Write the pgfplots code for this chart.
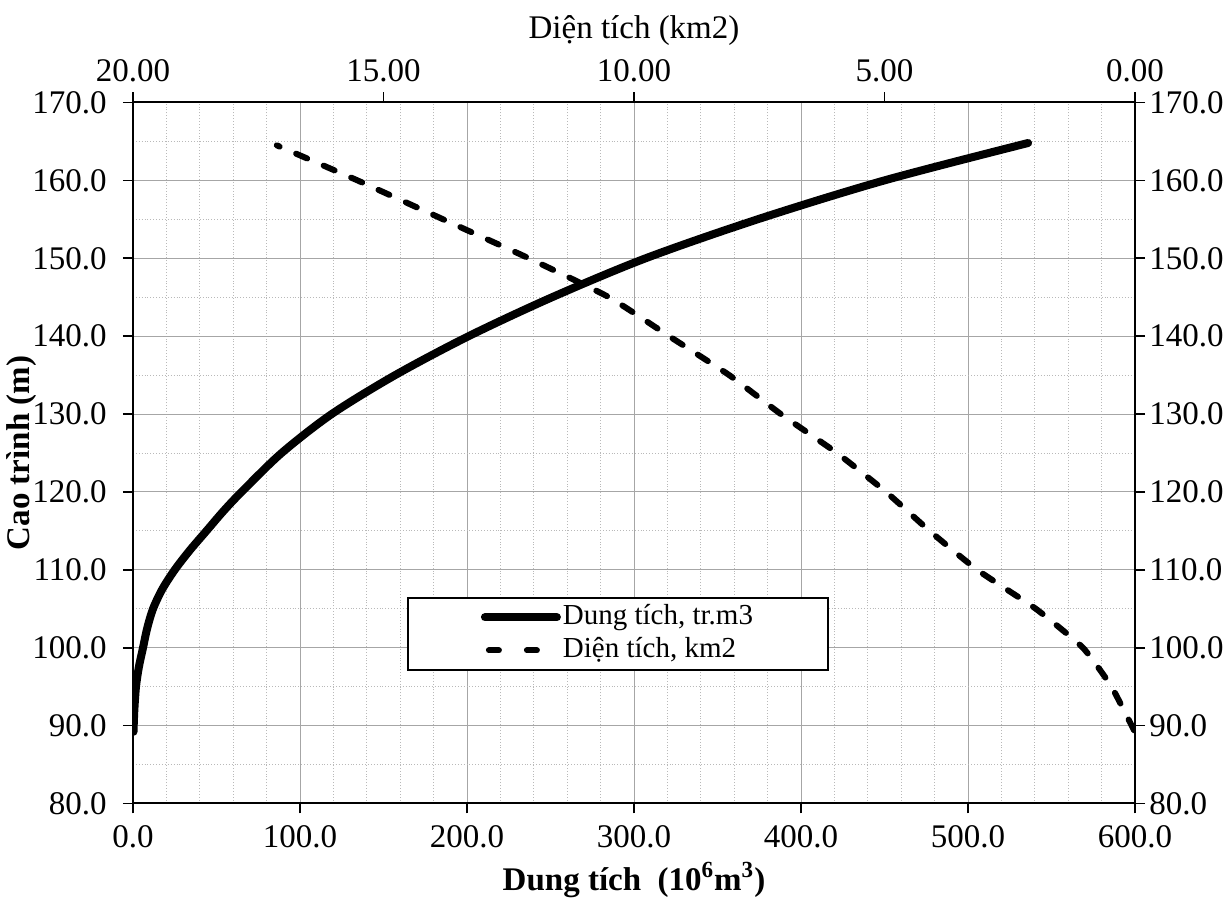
\documentclass[border=0pt]{standalone}
\usepackage{pgfplots}
\pgfplotsset{compat=1.18}
\usepackage{fontspec}
\setmainfont{Liberation Serif}

\pgfplotstableread{
V Z
0.3 89.2
0.8 92
1.8 95
3.5 97.5
6 100
8.5 102.5
12 105
17.5 107.5
25 110
34 112.5
44 115
54 117.5
65 120
89 125
119 130
157 135
201 140
251 145
307 150
374 155
450 160
536 164.8
}\dungtich

\pgfplotstableread{
A Z
0.02 89.4
0.47 95
1.04 100
1.98 105
3.15 110
4.1 115
4.97 120
5.95 125
7.07 130
8.1 135
9.3 140
10.5 145
12.1 150
13.81 155
15.52 160
17.13 164.5
}\dientich

\begin{document}
\begin{tikzpicture}
\pgfplotsset{
  every axis/.append style={
    scale only axis, width=501pt, height=350.5pt,
    ymin=80, ymax=170, ytick={80,90,...,170},
    tick style={black, line width=0.8pt},
    major tick length=5pt, minor tick length=0pt,
    axis line style={line width=1pt, black},
    tick align=outside,
    /pgf/number format/assume math mode=true,
    tick label style={font=\fontsize{16.5}{19}\selectfont},
  }
}
\begin{axis}[name=ax,
  xmin=0, xmax=600, xtick={0,100,...,600},
  minor x tick num=4, minor y tick num=1,
  grid=both,
  major grid style={gray!70, line width=0.5pt},
  minor grid style={gray!55, line width=0.45pt, densely dotted},
  xtick pos=left, ytick pos=left,
  xticklabel style={yshift=-2.5pt, /pgf/number format/fixed, /pgf/number format/fixed zerofill, /pgf/number format/precision=1},
  yticklabel style={inner xsep=0pt, xshift=-8pt, /pgf/number format/fixed, /pgf/number format/fixed zerofill, /pgf/number format/precision=1},
  xlabel={\textbf{Dung tích\ \ (10\textsuperscript{6}m\textsuperscript{3})}},
  ylabel={\textbf{Cao trình (m)}},
  every axis x label/.style={at={(axis description cs:0.5,-0.109)}, anchor=center, inner sep=0pt, font=\fontsize{16.5}{19}\selectfont},
  every axis y label/.style={at={(axis description cs:-0.1108,0.5)}, rotate=90, anchor=center, inner sep=0pt, font=\fontsize{16.5}{19}\selectfont},
  legend style={at={(0.484,0.242)}, anchor=center, draw=black, line width=0.8pt,
    inner xsep=36.5pt, inner ysep=1.5pt, row sep=0pt,
    font=\fontsize{14.5}{17}\selectfont,
    nodes={inner sep=1pt, text height=11pt, text depth=3.5pt}},
  legend cell align=left,
  legend image code/.code={\draw[#1] (0pt,0pt) -- (36pt,0pt);},
]
\addplot[black, line width=4pt, line cap=round, smooth, tension=0.5] table[x=V, y=Z] {\dungtich};
\addlegendentry{Dung tích, tr.m3}
\addlegendimage{black, line width=3pt, dash pattern=on 5pt off 14pt, line cap=round, dash phase=-2pt}
\addlegendentry{Diện tích, km2}
\end{axis}
\begin{axis}[
  xmin=0, xmax=20, x dir=reverse, xtick={0,5,...,20},
  xtick pos=right, xticklabel pos=right,
  ytick pos=right, yticklabel pos=right,
  xticklabel style={yshift=1.5pt, /pgf/number format/fixed, /pgf/number format/fixed zerofill, /pgf/number format/precision=2},
  yticklabel style={inner xsep=0pt, xshift=2pt, /pgf/number format/fixed, /pgf/number format/fixed zerofill, /pgf/number format/precision=1},
  xlabel={Diện tích (km2)},
  every axis x label/.style={at={(axis description cs:0.5,1.103)}, anchor=center, inner sep=0pt, font=\fontsize{16.5}{19}\selectfont},
]
\addplot[black, line width=3pt, line cap=round, dash pattern=on 6pt off 9pt, smooth, tension=0.3] table[x=A, y=Z] {\dientich};
\end{axis}
\path (ax.south west) ++(-66.5pt,-50.75pt);
\path (ax.north east) ++(47.5pt,51.25pt);
\end{tikzpicture}
\end{document}
